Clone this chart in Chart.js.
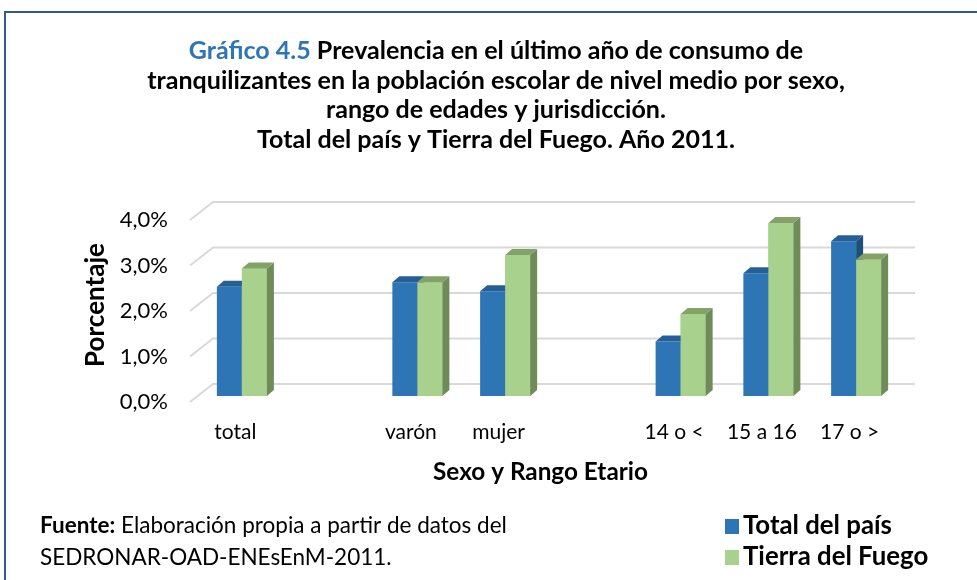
<!DOCTYPE html>
<html><head><meta charset="utf-8">
<script src="https://cdn.jsdelivr.net/npm/chart.js@4"></script>
<style>html,body{margin:0;padding:0;background:#fff}</style>
</head><body>
<canvas id="c" width="977" height="580" style="display:block;width:977px;height:580px"></canvas>
<script>
// ---- data ----
const categories = ['total', '', 'varón', 'mujer', '', '14 o <', '15 a 16', '17 o >'];
const totalPais = [2.4, null, 2.5, 2.3, null, 1.2, 2.7, 3.4];
const tierraFuego = [2.8, null, 2.5, 3.1, null, 1.8, 3.8, 3.0];
const seriesNames = ['Total del país', 'Tierra del Fuego'];
const yTickValues = [0, 1, 2, 3, 4];
const titleLabel = 'Gráfico 4.5';
const titleLines = [
  'Prevalencia en el último año de consumo de',
  'tranquilizantes en la población escolar de nivel medio por sexo,',
  'rango de edades y jurisdicción.',
  'Total del país y Tierra del Fuego. Año 2011.'
];
const yAxisTitle = 'Porcentaje';
const xAxisTitle = 'Sexo y Rango Etario';
const sourceBold = 'Fuente:';
const sourceLines = [' Elaboración propia a partir de datos del', 'SEDRONAR-OAD-ENEsEnM-2011.'];

// ---- styles ----
const FONT = 'Lato, "Open Sans", sans-serif';
const colors = {
  front: ['#2E75B6', '#A9D18E'],
  side: ['#1F4E79', '#6E8B58'],
  top: ['#255F96', '#82A267'],
  grid: '#D9D9D9',
  frame: '#2F5C8C',
  titleBlue: '#2E75B6'
};
const DEPTH_X = 7, DEPTH_Y = 6;

function fitSize(ctx, text, weight, target) {
  ctx.font = weight + ' 100px ' + FONT;
  return 100 * target / ctx.measureText(text).width;
}

function drawFaces(chart, i) {
  const {ctx} = chart;
  const meta = chart.getDatasetMeta(i);
  meta.data.forEach((el, k) => {
    const val = chart.data.datasets[i].data[k];
    if (val === null || val === undefined) return;
    const p = el.getProps(['x', 'y', 'base', 'width'], true);
    const l = p.x - p.width / 2, r = p.x + p.width / 2;
    ctx.fillStyle = colors.side[i];
    ctx.beginPath();
    ctx.moveTo(r, p.y); ctx.lineTo(r + DEPTH_X, p.y - DEPTH_Y);
    ctx.lineTo(r + DEPTH_X, p.base - DEPTH_Y); ctx.lineTo(r, p.base);
    ctx.closePath(); ctx.fill();
    ctx.fillStyle = colors.top[i];
    ctx.beginPath();
    ctx.moveTo(l, p.y); ctx.lineTo(l + DEPTH_X, p.y - DEPTH_Y);
    ctx.lineTo(r + DEPTH_X, p.y - DEPTH_Y); ctx.lineTo(r, p.y);
    ctx.closePath(); ctx.fill();
  });
}

const gridPlugin = {
  id: 'grid3d',
  beforeDatasetsDraw(chart) {
    const {ctx, chartArea: a, scales: {y}} = chart;
    ctx.save();
    ctx.strokeStyle = colors.grid;
    ctx.lineWidth = 2;
    yTickValues.forEach(v => {
      const py = y.getPixelForValue(v);
      ctx.beginPath();
      ctx.moveTo(a.left - 8, py + 6);
      ctx.lineTo(a.left + 15, py - 12);
      ctx.lineTo(a.right + 15, py - 12);
      ctx.stroke();
    });
    ctx.restore();
  },
  afterDatasetDraw(chart, args) {
    // dataset 0 (drawn last by Chart.js) gets its 3D faces here
    if (args.index !== 0) return;
    chart.ctx.save();
    drawFaces(chart, 0);
    chart.ctx.restore();
  },
  afterDatasetsDraw(chart) {
    const {ctx} = chart;
    ctx.save();
    // redraw the second series on top so it hides the first series' side faces
    const meta = chart.getDatasetMeta(1);
    meta.data.forEach((el, k) => {
      const val = chart.data.datasets[1].data[k];
      if (val === null || val === undefined) return;
      el.draw(ctx);
    });
    drawFaces(chart, 1);
    ctx.restore();
  },
  afterDraw(chart) {
    const {ctx} = chart;
    ctx.save();
    // frame
    ctx.strokeStyle = colors.frame;
    ctx.lineWidth = 2;
    ctx.beginPath();
    ctx.moveTo(5, 580); ctx.lineTo(5, 12); ctx.lineTo(977, 12);
    ctx.stroke();

    // title
    const tsize = fitSize(ctx, titleLines[1], 'bold', 698);
    ctx.font = 'bold ' + tsize + 'px ' + FONT;
    ctx.textBaseline = 'alphabetic';
    ctx.textAlign = 'left';
    const cx = 496;
    const baselines = [59, 89, 118, 148];
    const w1a = ctx.measureText(titleLabel + ' ').width;
    const w1b = ctx.measureText(titleLines[0]).width;
    let x0 = cx - (w1a + w1b) / 2;
    ctx.fillStyle = colors.titleBlue;
    ctx.fillText(titleLabel + ' ', x0, baselines[0]);
    ctx.fillStyle = '#000';
    ctx.fillText(titleLines[0], x0 + w1a, baselines[0]);
    ctx.textAlign = 'center';
    for (let i = 1; i < titleLines.length; i++) ctx.fillText(titleLines[i], cx, baselines[i]);

    // x axis title
    const xs = fitSize(ctx, xAxisTitle, 'bold', 215);
    ctx.font = 'bold ' + xs + 'px ' + FONT;
    ctx.fillText(xAxisTitle, 540.5, 480);

    // source
    ctx.textAlign = 'left';
    ctx.font = 'bold 100px ' + FONT;
    const wbRef = ctx.measureText(sourceBold).width;
    ctx.font = 'normal 100px ' + FONT;
    const wrRef = ctx.measureText(sourceLines[0]).width;
    const ss = 100 * 467 / (wbRef + wrRef);
    ctx.font = 'bold ' + ss + 'px ' + FONT;
    ctx.fillText(sourceBold, 40, 533);
    const wb = ctx.measureText(sourceBold).width;
    ctx.font = 'normal ' + ss + 'px ' + FONT;
    ctx.fillText(sourceLines[0], 40 + wb, 533);
    ctx.fillText(sourceLines[1], 40, 565);

    // legend
    const ls = fitSize(ctx, seriesNames[0], 'bold', 149);
    ctx.font = 'bold ' + ls + 'px ' + FONT;
    const legY = [534, 565];
    seriesNames.forEach((n, i) => {
      ctx.fillStyle = colors.front[i];
      ctx.fillRect(725, legY[i] - 15, 14, 15);
      ctx.fillStyle = '#000';
      ctx.fillText(n, 743, legY[i]);
    });
    ctx.restore();
  }
};

new Chart(document.getElementById('c'), {
  type: 'bar',
  data: {
    labels: categories,
    datasets: [
      {label: seriesNames[0], data: totalPais, backgroundColor: colors.front[0]},
      {label: seriesNames[1], data: tierraFuego, backgroundColor: colors.front[1]}
    ]
  },
  options: {
    responsive: false,
    devicePixelRatio: 1,
    animation: false,
    barPercentage: 1,
    categoryPercentage: 0.57,
    layout: {padding: {left: 80.4, right: 77, top: 214, bottom: 98}},
    plugins: {legend: {display: false}, title: {display: false}, tooltip: {enabled: false}},
    scales: {
      x: {
        grid: {display: false, drawTicks: false},
        border: {display: false},
        ticks: {color: '#000', font: {family: FONT, size: 21}, padding: 24, labelOffset: -6.5, maxRotation: 0, autoSkip: false},
        afterFit(s) { s.height = 86; }
      },
      y: {
        min: 0, max: 4,
        grid: {display: false, drawTicks: false},
        border: {display: false},
        afterBuildTicks(s) { s.ticks = yTickValues.map(v => ({value: v})); },
        ticks: {color: '#000', font: {family: FONT, size: 22}, padding: 30, labelOffset: 6,
          callback: v => v.toFixed(1).replace('.', ',') + '%'},
        title: {display: true, text: yAxisTitle, color: '#000', font: {family: FONT, size: 26, weight: 'bold'}, padding: 0},
        afterFit(s) { s.width = 117.6; }
      }
    }
  },
  plugins: [gridPlugin]
});
</script>
</body></html>
